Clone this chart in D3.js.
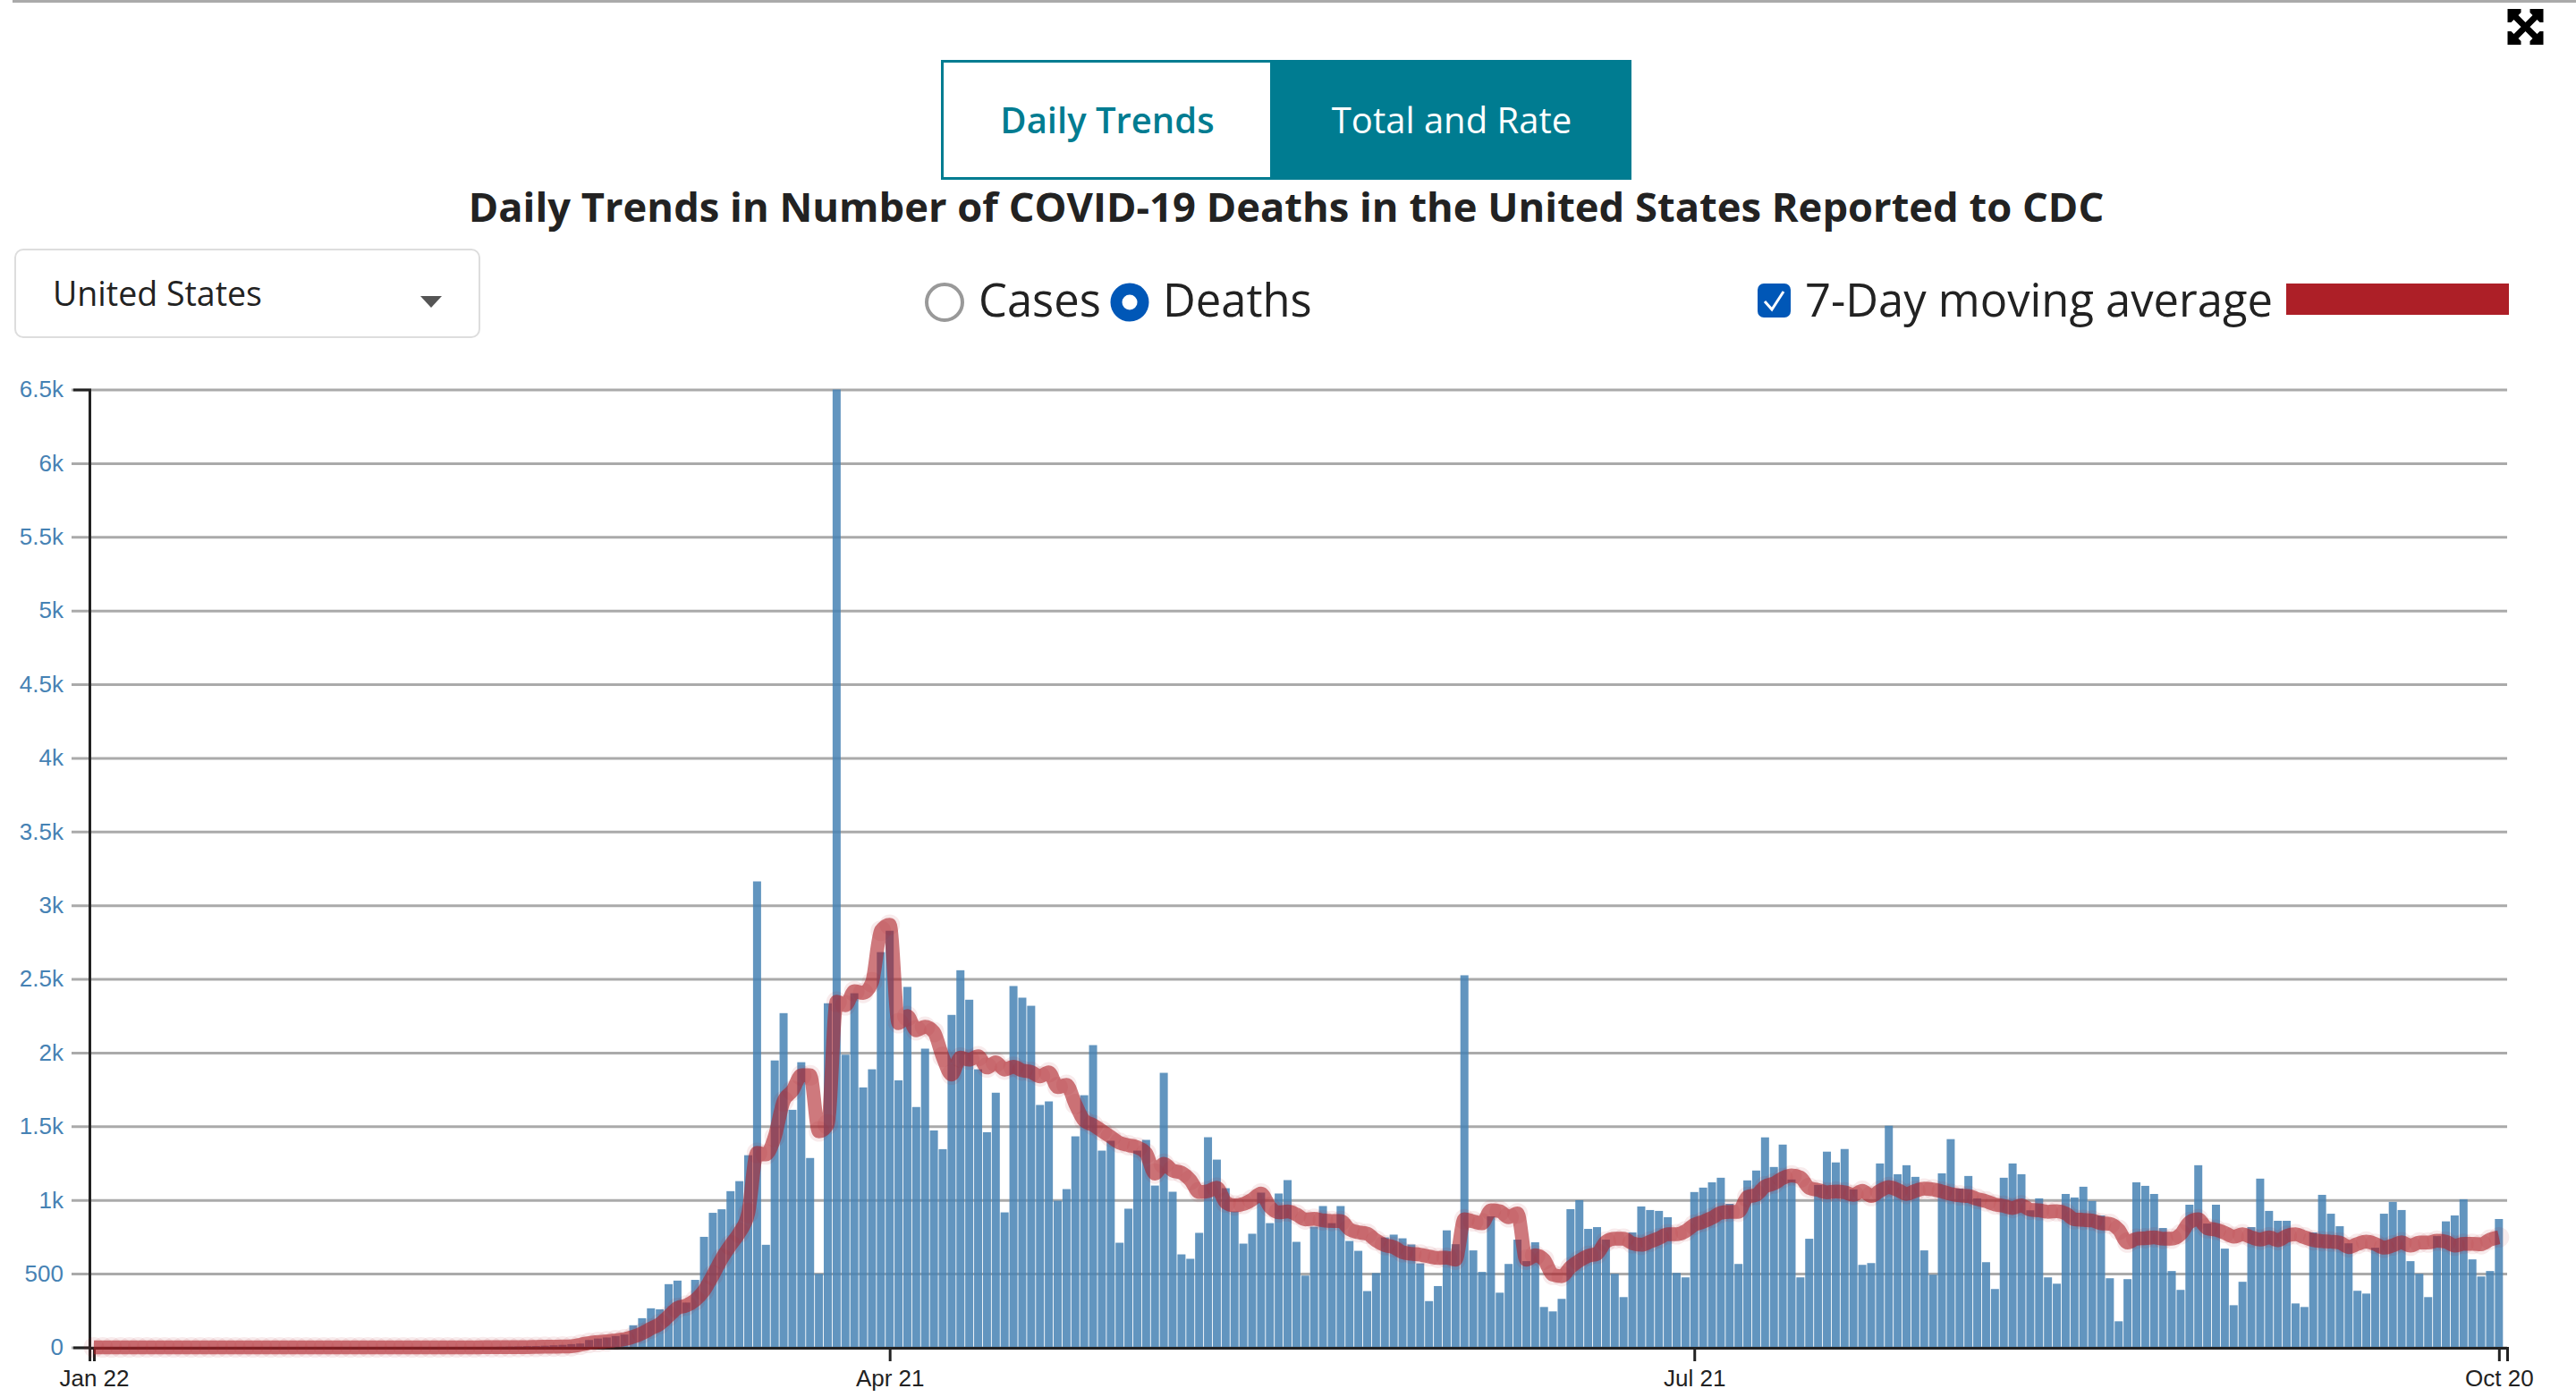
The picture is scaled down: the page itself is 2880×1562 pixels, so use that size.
<!DOCTYPE html>
<html><head><meta charset="utf-8">
<script src="https://cdnjs.cloudflare.com/ajax/libs/d3/7.8.5/d3.min.js"></script>
<style>
html,body{margin:0;padding:0;background:#fff;overflow:hidden}
svg{display:block}
text{font-family:"Open Sans",sans-serif;fill:#222}
.axis text{font-family:"Liberation Sans",Arial,sans-serif;font-size:26px}
</style></head><body>
<svg id="c" width="2880" height="1562"></svg>
<script>
const dailyDeaths = [
0,0,0,0,0,0,0,0,0,0,
0,0,0,0,0,0,0,0,0,0,
0,0,0,0,0,0,0,0,0,0,
0,0,0,0,0,0,0,0,0,0,
1,0,1,1,2,3,4,5,6,8,
9,11,14,17,22,26,50,60,67,77,
87,150,198,265,258,429,453,304,458,750,
913,937,1060,1128,1304,3162,696,1947,2268,1612,
1935,1285,499,2335,6500,1986,2403,1764,1887,2682,
2827,1812,2446,1631,2027,1472,1345,2256,2559,2359,
1887,1460,1728,916,2452,2373,2318,1645,1669,995,
1074,1432,1711,2051,1335,1402,710,941,1335,1408,
1098,1863,1056,631,601,777,1426,1274,1080,922,
704,771,1050,843,1044,1135,716,487,819,959,
843,959,722,655,382,504,746,765,740,698,
570,314,416,794,700,2525,658,512,889,371,
566,731,585,713,274,244,329,938,999,804,
816,731,499,341,780,956,932,926,883,505,
475,1054,1084,1120,1151,974,566,1133,1200,1425,
1224,1376,1139,475,737,1102,1328,1255,1346,1072,
560,572,1248,1504,1175,1236,1157,658,493,1181,
1413,1078,1163,1011,578,396,1151,1248,1175,930,
1011,475,432,1041,1017,1090,993,895,469,177,
463,1120,1096,1041,810,518,390,968,1236,840,
968,670,286,445,816,1145,926,859,859,298,
274,780,1035,907,822,706,384,365,676,907,
987,932,585,499,341,755,855,895,1005,597,
481,518,871];
const movingAverage = [
0,0,0,0,0,0,0,0,0,0,
0,0,0,0,0,0,0,0,0,0,
0,0,0,0,0,0,0,0,0,0,
0,0,0,0,0,0,0,0,0,0,
0,0,0,0,1,1,1,1,2,2,
3,4,5,6,8,18,30,36,41,48,
55,72,96,128,159,212,267,284,320,385,
489,602,694,778,911,1320,1309,1429,1670,1742,
1846,1846,1465,1513,2345,2321,2417,2405,2477,2827,
2868,2200,2248,2152,2176,2140,1971,1851,1967,1952,
1976,1899,1935,1885,1904,1879,1869,1839,1867,1766,
1782,1651,1539,1509,1469,1428,1388,1372,1357,1317,
1179,1246,1200,1185,1135,1054,1060,1084,983,963,
973,1003,1044,953,916,922,902,868,872,862,
858,858,801,781,771,726,694,680,645,635,
629,617,607,609,595,869,855,842,930,924,
883,909,595,625,595,493,483,544,589,621,
635,717,737,737,706,696,717,741,767,767,
788,832,853,879,913,920,920,1021,1035,1092,
1112,1149,1167,1153,1082,1068,1052,1058,1052,1035,
1062,1027,1062,1088,1068,1041,1062,1078,1072,1058,
1041,1031,1027,1007,991,970,960,946,964,934,
930,920,924,909,869,865,861,842,838,798,
711,737,741,747,737,737,767,849,869,808,
798,777,751,767,747,731,747,727,757,767,
747,727,721,717,711,680,702,717,702,676,
692,713,690,711,711,723,717,690,702,702,
700,731,747];
const xTickDays = [0, 90, 181, 272];
const xTickLabels = ["Jan 22", "Apr 21", "Jul 21", "Oct 20"];
const yTicks = [0,500,1000,1500,2000,2500,3000,3500,4000,4500,5000,5500,6000,6500];
const yTickLabels = ["0","500","1k","1.5k","2k","2.5k","3k","3.5k","4k","4.5k","5k","5.5k","6k","6.5k"];
const chartTitle = "Daily Trends in Number of COVID-19 Deaths in the United States Reported to CDC";

const svg = d3.select("#c");
const teal = "#007c91", blue = "#0057b7", red = "#ad1f27";
const x = d3.scaleLinear().domain([0, 273.43]).range([100.06, 2803]);
const y = d3.scaleLinear().domain([0, 6500]).range([1506.5, 435.5]);
const cx = i => x(i + 0.5);

// page furniture
svg.append("rect").attr("x",14).attr("y",0).attr("width",2866).attr("height",3).attr("fill","#aaa");
svg.append("rect").attr("x",1053.5).attr("y",68.5).attr("width",368).attr("height",131).attr("fill","#fff").attr("stroke",teal).attr("stroke-width",3);
svg.append("rect").attr("x",1421).attr("y",67).attr("width",403).attr("height",134).attr("fill",teal);
svg.append("text").attr("x",1238).attr("y",149).attr("text-anchor","middle").attr("font-size",40).attr("font-weight",600).style("fill",teal).text("Daily Trends");
svg.append("text").attr("x",1623).attr("y",149).attr("text-anchor","middle").attr("font-size",40).style("fill","#fff").text("Total and Rate");
svg.append("text").attr("x",1438).attr("y",248).attr("text-anchor","middle").attr("font-size",45.3).attr("font-weight",700).text(chartTitle);
svg.append("rect").attr("x",17).attr("y",279).attr("width",519).attr("height",98).attr("rx",9).attr("fill","#fff").attr("stroke","#ddd").attr("stroke-width",2);
svg.append("text").attr("x",59).attr("y",342).attr("font-size",37.5).text("United States");
svg.append("path").attr("d","M470 331H494L482 344Z").attr("fill","#555");
svg.append("circle").attr("cx",1056).attr("cy",338).attr("r",20).attr("fill","#fff").attr("stroke","#999").attr("stroke-width",4);
svg.append("text").attr("x",1094).attr("y",354).attr("font-size",50.7).text("Cases");
svg.append("circle").attr("cx",1263).attr("cy",338).attr("r",15).attr("fill","#fff").attr("stroke",blue).attr("stroke-width",13);
svg.append("text").attr("x",1300).attr("y",354).attr("font-size",50.7).text("Deaths");
svg.append("rect").attr("x",1965).attr("y",317).attr("width",37).attr("height",38).attr("rx",7).attr("fill",blue);
svg.append("path").attr("d","M1973 337L1981 346L1994 326").attr("fill","none").attr("stroke","#fff").attr("stroke-width",3);
svg.append("text").attr("x",2018).attr("y",354).attr("font-size",50.7).text("7-Day moving average");
svg.append("rect").attr("x",2556).attr("y",317).attr("width",249).attr("height",35).attr("fill",red);
// expand icon
const icon = svg.append("g").attr("transform","translate(2823.5,30)");
[0,90,180,270].forEach(a => icon.append("path").attr("transform",`rotate(${a})`)
  .attr("d","M-20 -20H-5V-16L-16 -5H-20Z").attr("fill","#000"));
icon.append("path").attr("d","M-14 -14L14 14M14 -14L-14 14").attr("stroke","#000").attr("stroke-width",7);

// grid + y axis
const yAxisG = svg.append("g").attr("class","axis y").attr("transform","translate(100,0)")
  .call(d3.axisLeft(y).tickValues(yTicks).tickFormat((d,i)=>yTickLabels[i]).tickSizeInner(20).tickSizeOuter(18).tickPadding(9));
yAxisG.selectAll(".tick line").attr("x1",-20).attr("x2",2703).attr("stroke","#aaa").attr("stroke-width",3);
yAxisG.selectAll(".tick text").style("fill","#4682b4").attr("font-size",null);
yAxisG.select(".domain").attr("stroke","#222").attr("stroke-width",3).raise();

// bars
svg.append("g").selectAll("rect").data(dailyDeaths).join("rect")
  .attr("x",(d,i)=>cx(i)-4.5).attr("width",9)
  .attr("y",d=>y(d)).attr("height",d=>y(0)-y(d))
  .attr("fill","#4682b4").attr("opacity",0.85);

// x axis
const xAxisG = svg.append("g").attr("class","axis x").attr("transform","translate(0,1507)")
  .call(d3.axisBottom(x).tickValues(xTickDays.map(d=>d+0.5)).tickFormat((d,i)=>xTickLabels[i]).tickSizeInner(15).tickSizeOuter(15).tickPadding(10));
xAxisG.selectAll(".tick line").attr("stroke","#222").attr("stroke-width",3);
xAxisG.selectAll(".tick text").style("fill","#222").attr("font-size",null);
xAxisG.select(".domain").attr("stroke","#222").attr("stroke-width",3);

// moving average
svg.append("g").selectAll("circle").data(movingAverage).join("circle")
  .attr("cx",(d,i)=>cx(i)).attr("cy",d=>y(d)).attr("r",11.5).attr("fill",red).attr("opacity",0.09);
const line = d3.line().x((d,i)=>cx(i)).y(d=>y(d)).curve(d3.curveMonotoneX);
svg.append("path").datum(movingAverage).attr("d",line).attr("fill","none")
  .attr("stroke",red).attr("stroke-width",15.5).attr("opacity",0.6);
</script></body></html>
